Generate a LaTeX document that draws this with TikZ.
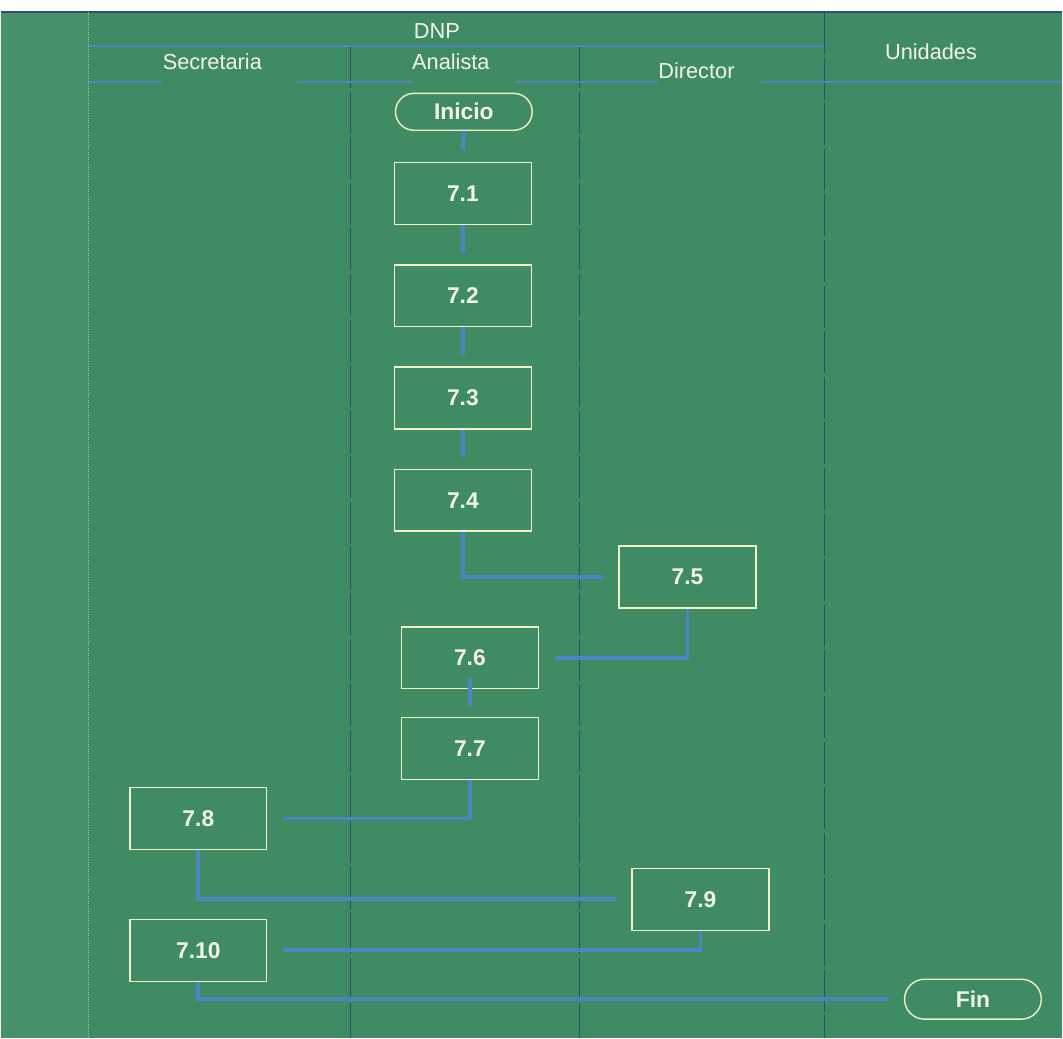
\documentclass[tikz,border=0pt]{standalone}
\usepackage{fontspec}
\setmainfont{Liberation Sans}
\usepackage{tikz}
\usetikzlibrary{positioning,shapes.misc}
\definecolor{bgc}{HTML}{3F8B63}
\definecolor{stripc}{HTML}{48906A}
\definecolor{linkc}{HTML}{4E84C4}
\definecolor{edgec}{HTML}{F2F0C6}
\definecolor{txtc}{HTML}{F4F4E6}
\definecolor{lanec}{HTML}{2C4F70}
\tikzset{
  act/.style={draw=edgec,line width=0.8pt,minimum width=2.74cm,minimum height=1.24cm,inner sep=0pt,font=\fontsize{13}{15}\selectfont\bfseries,text=txtc},
  term/.style={act,rounded rectangle,minimum height=0.74cm},
  hd/.style={font=\fontsize{12.4}{14}\selectfont,text=txtc,inner sep=0pt},
  lane/.style={draw=lanec,line width=0.6pt,dash pattern=on 24pt off 2pt},
  rule/.style={draw=linkc,line width=1.4pt},
  link/.style={draw=linkc,line width=2.2pt,shorten >=9pt},
  vlink/.style={link,shorten >=6.5pt},
}

\begin{document}
\begin{tikzpicture}[x=0.02cm,y=-0.02cm]
  % fondo y marco
  \fill[white] (0,0) rectangle (1063,1040);
  \fill[bgc] (0,12) rectangle (1063,1040);
  \fill[stripc] (0,12) rectangle (88,1040);
  \draw[lanec,line width=0.8pt] (0,12) -- (1063,12);
  \draw[edgec!60!bgc,densely dotted] (88,12) -- (88,1040);
  \foreach \x in {350,580} \draw[lane] (\x,46) -- (\x,1040);
  \draw[lane] (825,12) -- (825,1040);

  % cabecera
  \node[hd] (dnp) at (437,31) {DNP};
  \node[hd] (uni) at (932,52) {Unidades};
  \node[hd] (sec) at (212,62) {Secretaria};
  \node[hd] (ana) at (451,62) {Analista};
  \node[hd] (dir) at (697,71) {Director};
  \coordinate (h0) at (88,82);
  \coordinate (h4) at (1063,82);
  \draw[rule] (88,46) -- (825,46);
  \draw[rule] (h0) -- (h0 -| sec.west);
  \draw[rule] ([xshift=20pt]h0 -| sec.east) -- (h0 -| ana.west);
  \draw[rule] ([xshift=15pt]h0 -| ana.east) -- (h0 -| dir.west);
  \draw[rule] ([xshift=15pt]h0 -| dir.east) -- (h4);

  % actividades
  \node[term] (ini) at (464,112) {Inicio};
  \node[act] (a1) at (463,194) {7.1};
  \node[act,below=0.78cm of a1] (a2) {7.2};
  \node[act,below=0.78cm of a2] (a3) {7.3};
  \node[act,below=0.78cm of a3] (a4) {7.4};
  \node[act] (a5) at (688,578) {7.5};
  \node[act] (a6) at (470,659) {7.6};
  \node[act] (a7) at (470,750) {7.7};
  \node[act] (a8) at (198,820) {7.8};
  \node[act] (a9) at (701,901) {7.9};
  \node[act] (a10) at (198,952) {7.10};
  \node[term,minimum height=0.8cm] (fin) at (974,1001) {Fin};

  % conectores
  \draw[vlink] (ini.south) -- (a1.north);
  \draw[vlink] (a1.south) -- (a2.north);
  \draw[vlink] (a2.south) -- (a3.north);
  \draw[vlink] (a3.south) -- (a4.north);
  \draw[link] (a4.south) |- (a5.west);
  \draw[link] (a5.south) |- (a6.east);
  \draw[vlink,shorten <=-6.5pt] (a6.south) -- (a7.north);
  \draw[link] (a7.south) |- (a8.east);
  \draw[link] (a8.south) |- (a9.west);
  \draw[link] (a9.south) |- (a10.east);
  \draw[link] (a10.south) |- (fin.west);
\end{tikzpicture}
\end{document}
